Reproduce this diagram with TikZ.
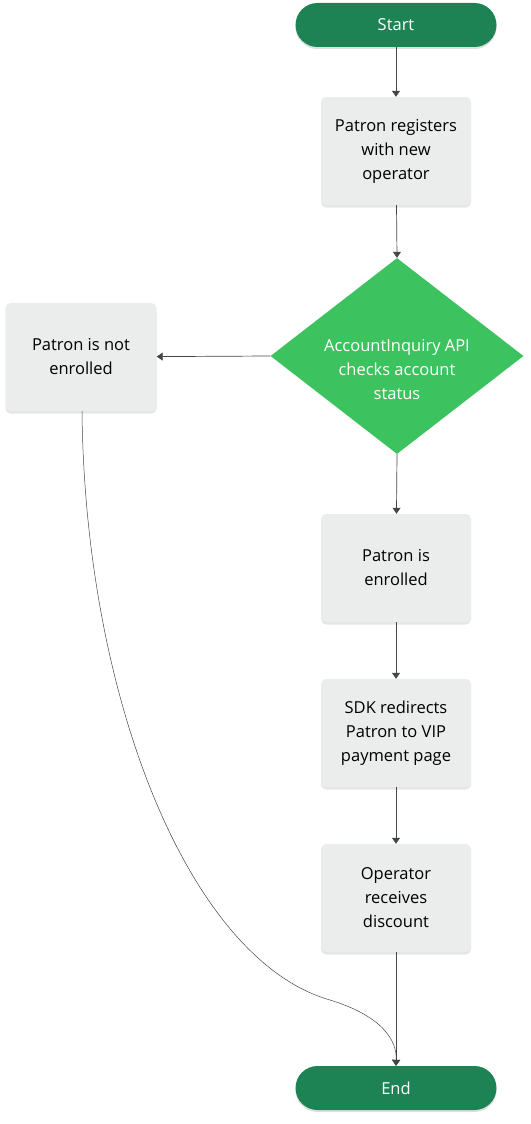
\documentclass[tikz,border=0pt]{standalone}
\usepackage{fontspec}
\setmainfont{Open Sans}
\usetikzlibrary{shapes.geometric,shadows,arrows.meta}
\definecolor{pillgreen}{RGB}{30,131,84}
\definecolor{diagreen}{RGB}{60,195,96}
\definecolor{boxgray}{RGB}{235,236,236}
\definecolor{linegray}{RGB}{70,70,70}
\begin{document}
\begin{tikzpicture}[x=1pt,y=-1pt,
	pill/.style={rectangle, rounded corners=22pt, fill=pillgreen, text=white, minimum width=201pt, minimum height=44pt, font=\fontsize{16.5}{20}\selectfont, drop shadow={shadow xshift=0pt, shadow yshift=-2pt, opacity=0.25}},
	stepbox/.style={rectangle, rounded corners=5pt, fill=boxgray, minimum width=150pt, minimum height=108pt, align=center, font=\fontsize{16.5}{24}\selectfont, drop shadow={shadow xshift=0pt, shadow yshift=-2.5pt, opacity=0.2}},
	link/.style={draw=linegray, line width=0.7pt, -{Triangle[length=6pt, width=8pt]}}]
	\useasboundingbox (0,0) rectangle (530,1124);
	\node[pill] (start) at (396,25) {Start};
	\node[stepbox] (register) at (396,151) {Patron registers\\with new\\operator};
	\node[diamond, fill=diagreen, minimum width=253pt, minimum height=196pt, aspect=1.29, inner sep=0pt] (check) at (397,356) {};
	\draw ([yshift=-14pt]check.center) node[align=center, text=white, font=\fontsize{16.5}{24}\selectfont] (checktext) {AccountInquiry API\\checks account\\status};
	\node[stepbox, minimum width=151pt] (notenrolled) at (81,357) {Patron is not\\enrolled};
	\node[stepbox] (enrolled) at (396,568) {Patron is\\enrolled};
	\node[stepbox] (redirect) at (396,733) {SDK redirects\\Patron to VIP\\payment page};
	\node[stepbox] (discount) at (396,898) {Operator\\receives\\discount};
	\node[pill] (end) at (396,1088) {End};
	\coordinate (bend) at (330,1000);

	\draw[link] (start) -- (register);
	\draw[link] (register) -- (check.north);
	\draw[link] (check.west) -- (notenrolled);
	\draw[link] (check.south) -- (enrolled);
	\draw[link] (enrolled) -- (redirect);
	\draw[link] (redirect) -- (discount);
	\draw[link] (discount) -- (end);
	\draw[link, line width=0.5pt] ([xshift=1pt]notenrolled.south) .. controls (85,700) and (190,960) .. (bend) .. controls (382,1016) and (397,1040) .. (end.north);
\end{tikzpicture}
\end{document}
